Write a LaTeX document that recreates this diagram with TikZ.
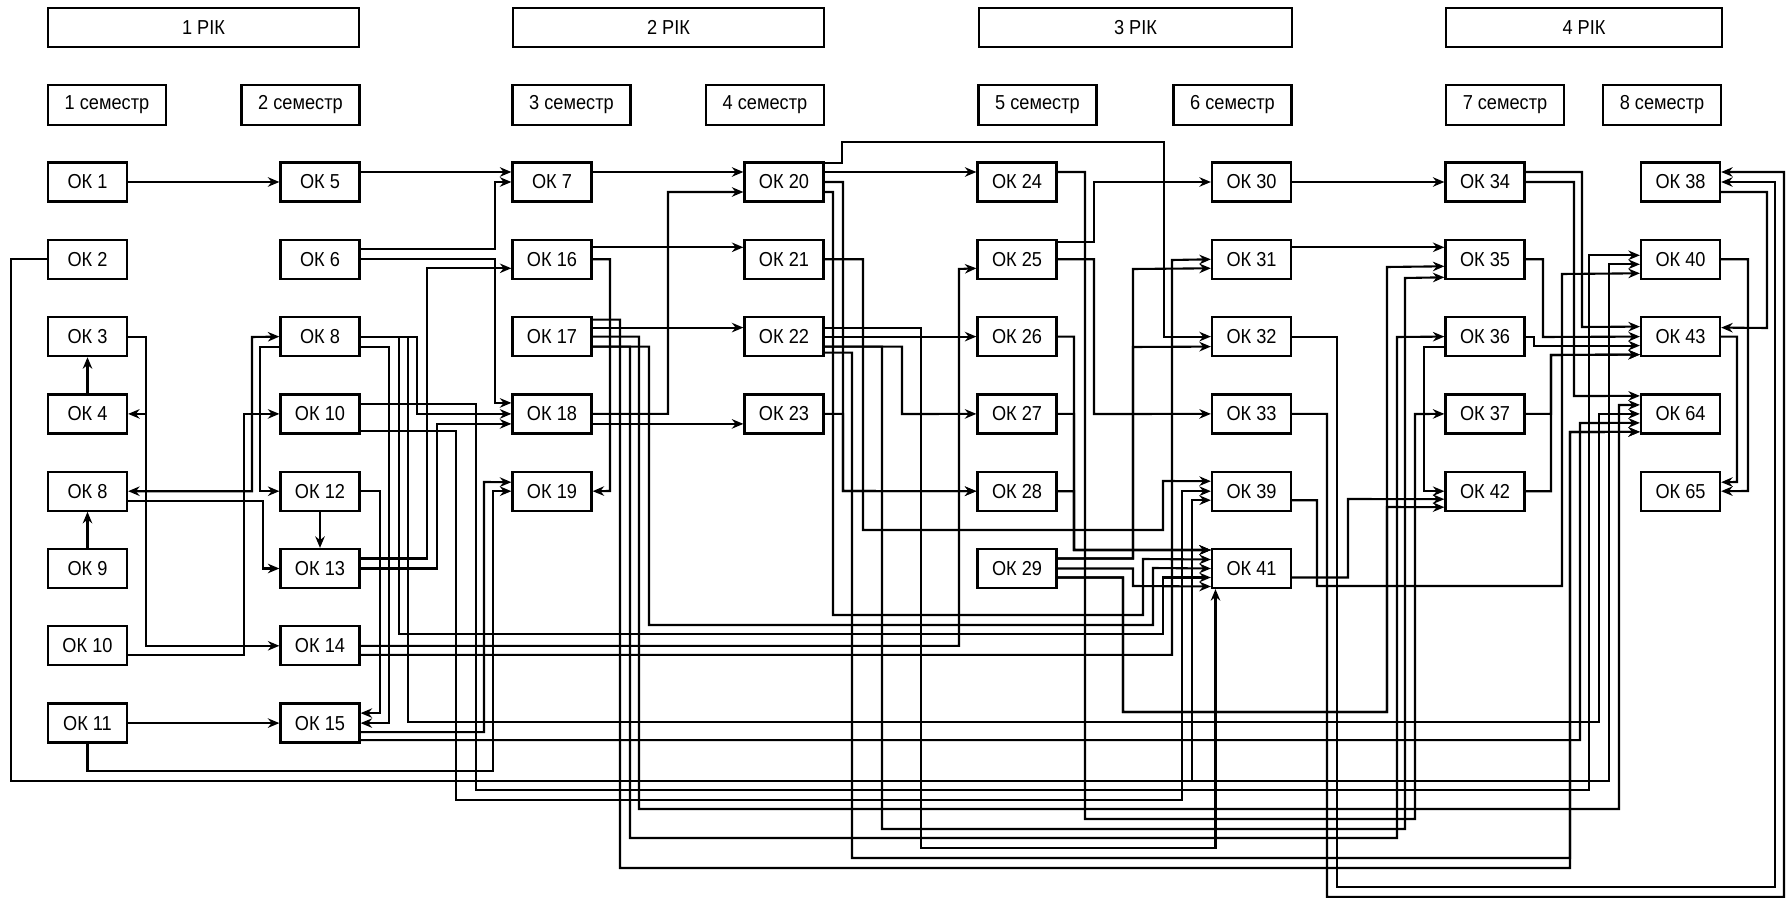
\documentclass[tikz,border=0pt]{standalone}
\usepackage{fontspec}
\setmainfont{Liberation Sans}[FakeStretch=0.9]
\usetikzlibrary{arrows.meta}

\tikzset{
  ok/.style={draw, line width=0.45mm, minimum width=15.8mm, minimum height=7.8mm,
    inner sep=0pt, font=\fontsize{11.5}{13}\selectfont},
  sem/.style={ok, minimum width=23.6mm, minimum height=8mm},
  yr/.style={ok, minimum width=62.2mm},
  arr/.style={line width=0.42mm, -{Stealth[length=2.3mm,width=1.9mm]}},
  arrs/.style={line width=0.42mm, {Stealth[length=2.3mm,width=1.9mm]}-{Stealth[length=2.3mm,width=1.9mm]}},
}
\def\colx{{87.5,320,552,784,1017,1251.5,1485,1680.5}}

\begin{document}
\begin{tikzpicture}[x=0.2mm, y=-0.2mm]
\useasboundingbox (0,0) rectangle (1788,898);

% years and semesters
\node[yr] (y1) at (203.5,27.5) {1 РІК};
\node[yr] (y2) at (668.5,27.5) {2 РІК};
\node[yr, minimum width=62.6mm] (y3) at (1135.5,27.5) {3 РІК};
\node[yr, minimum width=55.2mm] (y4) at (1584,27.5) {4 РІК};
\foreach \s/\xs in {1/107, 2/300.5, 3/571.5, 4/765, 5/1037.5, 6/1232.5, 7/1505, 8/1662}
  \node[sem] (s\s) at (\xs,105) {\s\ семестр};

% course blocks
\foreach \nm/\lbl/\cl/\rw in {
  ok1/1/0/0, ok2/2/0/1, ok3/3/0/2, ok4/4/0/3, ok8a/8/0/4, ok9/9/0/5, ok10a/10/0/6, ok11/11/0/7,
  ok5/5/1/0, ok6/6/1/1, ok8b/8/1/2, ok10b/10/1/3, ok12/12/1/4, ok13/13/1/5, ok14/14/1/6, ok15/15/1/7,
  ok7/7/2/0, ok16/16/2/1, ok17/17/2/2, ok18/18/2/3, ok19/19/2/4,
  ok20/20/3/0, ok21/21/3/1, ok22/22/3/2, ok23/23/3/3,
  ok24/24/4/0, ok25/25/4/1, ok26/26/4/2, ok27/27/4/3, ok28/28/4/4, ok29/29/4/5,
  ok30/30/5/0, ok31/31/5/1, ok32/32/5/2, ok33/33/5/3, ok39/39/5/4, ok41/41/5/5,
  ok34/34/6/0, ok35/35/6/1, ok36/36/6/2, ok37/37/6/3, ok42/42/6/4,
  ok38/38/7/0, ok40/40/7/1, ok43/43/7/2, ok64/64/7/3, ok65/65/7/4}
{
  \pgfmathsetmacro\xx{\colx[\cl]}
  \node[ok] (\nm) at (\xx,{182+77.3*\rw}) {ОК \lbl};
}

% 1 year
\draw[arr] (ok1.east) -- (ok5.west);
\draw[arr] (ok4.north) -- (ok3.south);
\draw[arr] (ok9.north) -- (ok8a.south);
\draw[arr] (ok12.south) -- (ok13.north);
\draw[arr] (ok11.east) -- (ok15.west);
\draw[arr] (ok3.east) -- ++(18,0) |- (ok14.west);
\draw[arr] (ok3.east) -- ++(18,0) |- (ok4.east);
\draw[arrs] (ok8a.east) -| (252,337) -- (ok8b.west);
\draw[arr] ([yshift=-2mm]ok8b.west) -- ++(-19,0) |- (ok12.west);
\draw[arr] ([yshift=-2mm]ok8a.east) -- ++(135,0) |- (ok13.west);
\draw[arr] ([yshift=-1.8mm]ok10a.east) -- ++(116,0) |- (ok10b.west);
\draw[arr] (ok11.south) |- (493,771) |- (ok19.west);
\draw[arr] (ok2.west) -- ++(-36,0) |- (1192,781) |- ([yshift=-1.8mm]ok39.west);
\draw[arr] (ok2.west) -- ++(-36,0) |- (1609,781) |- ([yshift=-1mm]ok40.west);
\draw[arr] ([yshift=2mm]ok5.east) -- ([yshift=2mm]ok7.west);
\draw[arr] ([yshift=2mm]ok6.east) -- ++(134,0) |- (ok7.west);
\draw[arr] (ok6.east) -- ++(134,0) |- ([yshift=2.2mm]ok18.west);
\draw[arr] ([yshift=2mm]ok13.east) -- ++(66,0) |- ([yshift=-1.8mm]ok16.west);
\draw[arr] (ok8b.east) -- ++(56,0) |- (ok18.west);
\draw[arr] (ok13.east) -- ++(76,0) |- ([yshift=-2mm]ok18.west);
\draw[arr] ([yshift=2mm]ok10b.east) -- ++(115,0) |- (1589,790) |- ([yshift=.8mm]ok40.west);
\draw[arr] ([yshift=-3.4mm]ok10b.east) -- ++(95,0) |- (1182,800) |- (ok39.west);
\draw[arr] (ok12.east) -- ++(19,0) |- ([yshift=2mm]ok15.east);
\draw[arr] ([yshift=-2mm]ok8b.east) -- ++(28,0) |- (ok15.east);
\draw[arr] (ok8b.east) -- ++(38,0) |- (1163,634) |- ([yshift=-1.8mm]ok41.west);
\draw[arr] (ok8b.east) -- ++(47,0) |- (1599,722) |- (ok64.west);
\draw[arr] (ok14.east) -| (959,269) -- ([yshift=-1.8mm]ok25.west);
\draw[arr] ([yshift=-1.8mm]ok14.east) -| (1172,260) -- (ok31.west);
\draw[arr] ([yshift=-1.8mm]ok15.east) -| (484,482) -- ([yshift=1.8mm]ok19.west);
\draw[arr] ([yshift=-3.4mm]ok15.east) -| (1580,423) -- ([yshift=-1.8mm]ok64.west);

% 2 year
\draw[arr] ([yshift=2mm]ok7.east) -- ([yshift=2mm]ok20.west);
\draw[arr] ([yshift=2.4mm]ok16.east) -- ([yshift=2.4mm]ok21.west);
\draw[arr] (ok16.east) -| (610,491) -- (ok19.east);
\draw[arr] (ok18.east) -| (668,192) -- ([yshift=-2mm]ok20.west);
\draw[arr] ([yshift=-2mm]ok18.east) -- ([yshift=-2mm]ok23.west);
\draw[arr] ([yshift=1.8mm]ok17.east) -- ([yshift=1.8mm]ok22.west);
\draw[arr] ([yshift=3.4mm]ok17.east) -| (620,868) -| (1570,432) -- ([yshift=-3.6mm]ok64.west);
\draw[arr] (ok17.east) -| (639,809) -| (1619,405) -- ([yshift=1.8mm]ok64.west);
\draw[arr] ([yshift=-2mm]ok17.east) -| (630,838) -| (1397,337) -- (ok36.west);
\draw[arr] ([yshift=-2mm]ok17.east) -| (649,625) -| (1153,568) -- (ok41.west);
\draw[arr] ([yshift=3.8mm]ok20.east) -- ++(17,0) |- (1164,142) |- (ok32.west);
\draw[arr] ([yshift=2mm]ok20.east) -- ([yshift=2mm]ok24.west);
\draw[arr] (ok20.east) -| (843,491) -- (ok28.west);
\draw[arr] (ok23.east) -| (843,491) -- (ok28.west);
\draw[arr] ([yshift=-2mm]ok20.east) -| (833,615) -| (1143,559) -- ([yshift=1.8mm]ok41.west);
\draw[arr] (ok21.east) -| (863,530) -| (1163,481) -- ([yshift=2mm]ok39.west);
\draw[arr] ([yshift=1.8mm]ok22.east) -| (921,848) -| ([xshift=-7.2mm]ok41.south);
\draw[arr] (ok22.east) -- (ok26.west);
\draw[arr] ([yshift=-2mm]ok22.east) -| (902,414) -- (ok27.west);
\draw[arr] ([yshift=-2mm]ok22.east) -| (882,829) -| (1405,278) -- ([yshift=-3.6mm]ok35.west);
\draw[arr] ([yshift=-3.2mm]ok22.east) -| (852,858) -| (1570,432) -- ([yshift=-3.6mm]ok64.west);

% 3 year
\draw[arr] ([yshift=2mm]ok24.east) -| (1085,819) -| (1415,414) -- (ok37.west);
\draw[arr] ([yshift=3.4mm]ok25.east) -| (1094,182) -- (ok30.west);
\draw[arr] (ok25.east) -| (1094,414) -- (ok33.west);
\draw[arr] (ok26.east) -| (1074,550) -- ([yshift=3.7mm]ok41.west);
\draw[arr] (ok27.east) -| (1074,550) -- ([yshift=3.7mm]ok41.west);
\draw[arr] (ok28.east) -| (1074,550) -- ([yshift=3.7mm]ok41.west);
\draw[arr] ([yshift=2mm]ok29.east) -| (1133,269) -- ([yshift=-1.8mm]ok31.west);
\draw[arr] ([yshift=2mm]ok29.east) -| (1133,347) -- ([yshift=-2mm]ok32.west);
\draw[arr] (ok29.east) -| (1133,586) -- ([yshift=-3.6mm]ok41.west);
\draw[arr] ([yshift=-1.8mm]ok29.east) -| (1123,712) -| (1387,267) -- ([yshift=-1.4mm]ok35.west);
\draw[arr] ([yshift=-1.8mm]ok29.east) -| (1123,712) -| (1387,507) -- ([yshift=-3.2mm]ok42.west);
\draw[arr] (ok30.east) -- (ok34.west);
\draw[arr] ([yshift=2.4mm]ok31.east) -- ([yshift=2.4mm]ok35.west);
\draw[arr] (ok32.east) -| (1337,887) -| (1775,182) -- (ok38.east);
\draw[arr] (ok33.east) -| (1327,897) -| (1784,172) -- ([yshift=2mm]ok38.east);
\draw[arr] ([yshift=-1.8mm]ok39.east) -| (1317,586) -| (1562,274) -- ([yshift=-2.8mm]ok40.west);
\draw[arr] ([yshift=-1.8mm]ok41.east) -| (1348,499) -- ([yshift=-1.6mm]ok42.west);

% 4 year
\draw[arr] ([yshift=2mm]ok34.east) -| (1582,327) -- ([yshift=2mm]ok43.west);
\draw[arr] (ok34.east) -| (1574,396) -- ([yshift=3.6mm]ok64.west);
\draw[arr] (ok35.east) -| (1543,337) -- (ok43.west);
\draw[arr] (ok36.east) -- ++(8,0) |- ([yshift=-1.8mm]ok43.west);
\draw[arr] (ok37.east) -| (1551,355) -- ([yshift=-3.6mm]ok43.west);
\draw[arr] (ok42.east) -| (1551,355) -- ([yshift=-3.6mm]ok43.west);
\draw[arr] ([yshift=-2mm]ok36.west) -- ++(-20,0) |- (ok42.west);
\draw[arr] ([yshift=-2mm]ok38.east) -| (1767,328) -- ([yshift=1.8mm]ok43.east);
\draw[arr] (ok43.east) -| (1737,482) -- ([yshift=1.8mm]ok65.east);
\draw[arr] (ok40.east) -| (1748,491) -- (ok65.east);
\end{tikzpicture}
\end{document}
